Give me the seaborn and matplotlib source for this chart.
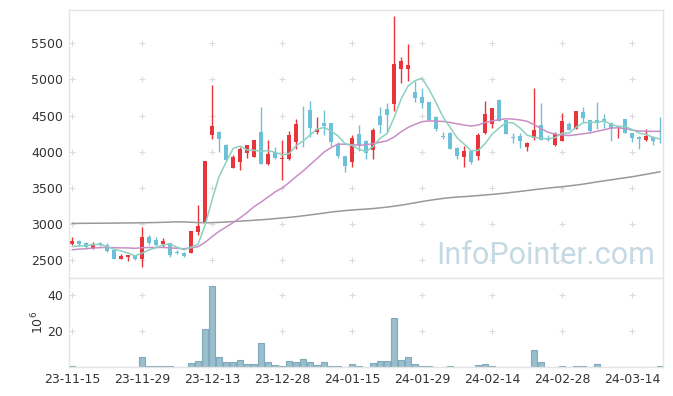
import numpy as np
import pandas as pd
import seaborn as sns
import matplotlib.pyplot as plt

# KRX trading days shown (index 0 = 23-11-15 ... index 84 = 24-03-20)
holidays = ['2023-12-25', '2023-12-29', '2024-01-01', '2024-02-09', '2024-02-12', '2024-03-01']
trade_days = pd.bdate_range('2023-11-15', '2024-03-20', freq='C', holidays=holidays)

open_ = [2725, 2760, 2739, 2676, 2733, 2711, 2638, 2522, 2550, 2573,
         2518, 2822, 2781, 2725, 2739, 2619, 2601, 2605, 2895, 3034,
         4236, 4273, 4089, 3780, 3863, 3987, 3932, 4273, 3835, 4001,
         3905, 3901, 4139, 4305, 4577, 4277, 4398, 4398, 4107, 3942,
         3863, 4245, 4149, 4029, 4499, 4595, 4656, 5148, 5148, 4826,
         4757, 4688, 4480, 4225, 4260, 4052, 3932, 4015, 3945, 4264,
         4388, 4711, 4435, 4205, 4214, 4070, 4195, 4366, 4186, 4098,
         4153, 4384, 4319, 4550, 4435, 4439, 4453, 4398, 4330, 4453,
         4260, 4204, 4167, 4209, 4155]
high = [2827, 2775, 2753, 2757, 2753, 2743, 2640, 2583, 2578, 2578,
        2956, 2850, 2818, 2804, 2745, 2640, 2610, 2910, 3260, 3872,
        4923, 4285, 4107, 3951, 4060, 4100, 4162, 4615, 4162, 4062,
        4162, 4287, 4453, 4632, 4701, 4476, 4577, 4400, 4139, 3945,
        4232, 4370, 4160, 4333, 4623, 4670, 5876, 5305, 5489, 4982,
        4877, 4695, 4495, 4273, 4273, 4060, 4084, 4020, 4255, 4697,
        4610, 4725, 4440, 4264, 4264, 4140, 4877, 4679, 4232, 4277,
        4532, 4407, 4570, 4614, 4440, 4683, 4522, 4405, 4356, 4460,
        4265, 4218, 4310, 4215, 4485]
low = [2711, 2700, 2652, 2652, 2697, 2619, 2515, 2514, 2494, 2500,
       2411, 2711, 2697, 2690, 2550, 2590, 2541, 2597, 2850, 3020,
       4172, 3997, 3885, 3775, 3748, 3918, 3923, 3835, 3813, 3896,
       3610, 3890, 4034, 4070, 4209, 4245, 4232, 4080, 3910, 3725,
       3785, 4015, 3896, 3896, 4255, 4273, 4568, 4955, 4978, 4692,
       4600, 4440, 4283, 4171, 4040, 3896, 3785, 3827, 3882, 4250,
       4324, 4425, 4245, 4126, 4048, 4011, 4162, 4160, 4150, 4080,
       4150, 4295, 4315, 4416, 4270, 4315, 4324, 4149, 4195, 4255,
       4131, 4034, 4149, 4089, 4117]
close = [2767, 2725, 2680, 2725, 2705, 2633, 2518, 2564, 2573, 2518,
         2822, 2743, 2716, 2767, 2577, 2597, 2564, 2901, 2978, 3872,
         4356, 4181, 3891, 3928, 4034, 4089, 4158, 3835, 3965, 3918,
         3915, 4232, 4384, 4295, 4333, 4314, 4356, 4139, 3945, 3807,
         4190, 4093, 3979, 4301, 4374, 4508, 5213, 5254, 5199, 4747,
         4670, 4443, 4319, 4210, 4044, 3945, 4011, 3863, 4228, 4522,
         4601, 4430, 4250, 4195, 4153, 4117, 4297, 4167, 4158, 4246,
         4421, 4301, 4563, 4471, 4287, 4393, 4425, 4319, 4337, 4264,
         4195, 4172, 4218, 4144, 4145]
# volume in 10^6 shares
volume = [0.4, 0.05, 0.05, 0.05, 0.05, 0.05, 0.05, 0.05, 0.05, 0.05,
          5.7, 0.7, 0.3, 0.3, 0.3, 0.05, 0.05, 2.4, 3.5, 21.3,
          44.8, 5.7, 3.0, 3.0, 4.1, 1.9, 1.9, 13.5, 3.0, 1.3,
          0.7, 3.5, 3.0, 4.6, 3.0, 1.3, 3.0, 0.8, 0.8, 0.2,
          1.8, 0.7, 0.2, 2.4, 3.5, 3.5, 27.4, 4.0, 5.7, 1.8,
          0.7, 0.7, 0.2, 0.2, 0.7, 0.2, 0.2, 0.2, 1.3, 1.8,
          0.7, 0.2, 0.2, 0.2, 0.2, 0.2, 9.6, 2.5, 0.2, 0.2,
          0.7, 0.2, 0.7, 0.7, 0.2, 1.9, 0.2, 0.2, 0.2, 0.2,
          0.2, 0.2, 0.05, 0.05, 0.7]
# closes before the window (estimated), needed for 5/20 day averages
prior_close = [2540, 2555, 2570, 2560, 2580, 2595, 2610, 2600, 2625, 2648,
               2690, 2720, 2735, 2710, 2710, 2680, 2665, 2660, 2678]
# 120 day average
ma120 = [3010, 3010, 3011, 3012, 3012, 3013, 3014, 3015, 3016, 3017,
         3018, 3020, 3022, 3025, 3028, 3032, 3030, 3026, 3021, 3019,
         3020, 3024, 3029, 3035, 3041, 3047, 3053, 3060, 3067, 3076,
         3085, 3093, 3103, 3115, 3127, 3140, 3153, 3167, 3177, 3187,
         3195, 3202, 3208, 3215, 3225, 3235, 3248, 3262, 3278, 3295,
         3312, 3328, 3342, 3355, 3366, 3374, 3380, 3387, 3395, 3403,
         3411, 3420, 3430, 3441, 3452, 3464, 3476, 3487, 3498, 3508,
         3517, 3528, 3540, 3553, 3568, 3584, 3598, 3612, 3627, 3641,
         3655, 3672, 3689, 3706, 3724]

df = pd.DataFrame({'date': trade_days, 'open': open_, 'high': high, 'low': low,
                   'close': close, 'volume': volume, 'ma120': ma120})
df['x'] = np.arange(len(df))
allc = pd.Series(prior_close + close, dtype=float)
df['ma5'] = allc.rolling(5).mean().iloc[len(prior_close):].values
df['ma20'] = allc.rolling(20).mean().iloc[len(prior_close):].values

RED = '#e8353b'
BLUE = '#6cc1d9'

sns.set_theme(style='white')
plt.rcParams['font.family'] = ['DejaVu Sans']

fig = plt.figure(figsize=(6.73, 3.96), dpi=100)
ax1 = fig.add_axes([0.10253, 0.29798, 0.88262, 0.67677])
ax2 = fig.add_axes([0.10253, 0.07323, 0.88262, 0.22475])

# candles
up = df['close'] >= df['open']
cols = np.where(up, RED, BLUE)
ax1.vlines(df['x'], df['low'], df['high'], colors=cols, lw=1, zorder=2)
body_lo = np.minimum(df['open'], df['close'])
body_h = np.maximum((df['close'] - df['open']).abs(), 10)
ax1.bar(df['x'], body_h, bottom=body_lo, width=0.62, color=cols, linewidth=0, zorder=2)

sns.lineplot(data=df, x='x', y='ma120', color='#999999', lw=1.1, ax=ax1, zorder=3)
sns.lineplot(data=df, x='x', y='ma20', color='#c98ec6', lw=1.1, ax=ax1, zorder=3)
sns.lineplot(data=df, x='x', y='ma5', color='#8ed0c1', lw=1.1, ax=ax1, zorder=3)

# volume
sns.barplot(data=df, x='x', y='volume', native_scale=True, width=0.86, color='#99bfce',
            edgecolor='#80a9bb', linewidth=0.8, saturation=1, ax=ax2)

xt = list(range(0, len(df), 10))
yt1 = [2500, 3000, 3500, 4000, 4500, 5000, 5500]
yt2 = [20, 40]
for ax, yt in [(ax1, yt1), (ax2, yt2)]:
    gx, gy = np.meshgrid(xt, yt)
    ax.scatter(gx.ravel(), gy.ravel(), marker='+', s=18, color='#dcdcdc', linewidths=0.8, zorder=0)
    ax.set_xlim(-0.43, 84.4)
    ax.set_yticks(yt)
    ax.set_xticks(xt)
    ax.tick_params(length=0, labelsize=9, colors='#333333', pad=4)
    for s in ax.spines.values():
        s.set_color('#e4e4e4')
        s.set_linewidth(1)
    ax.set_xlabel('')
    ax.set_ylabel('')

ax1.set_ylim(2255, 5960)
ax1.set_xticklabels([])
ax2.set_ylim(0, 49.4)
ax2.set_xticklabels([trade_days[i].strftime('%y-%m-%d') for i in xt])
ax2.set_ylabel(r'$10^6$', fontsize=9, color='#333333', labelpad=1)

ax1.text(0.803, 0.085, 'InfoPointer.com', transform=ax1.transAxes, ha='center', va='center',
         fontsize=22, color='#c5d9e4', family='Roboto', zorder=1)

fig.savefig('out.png', dpi=100)
